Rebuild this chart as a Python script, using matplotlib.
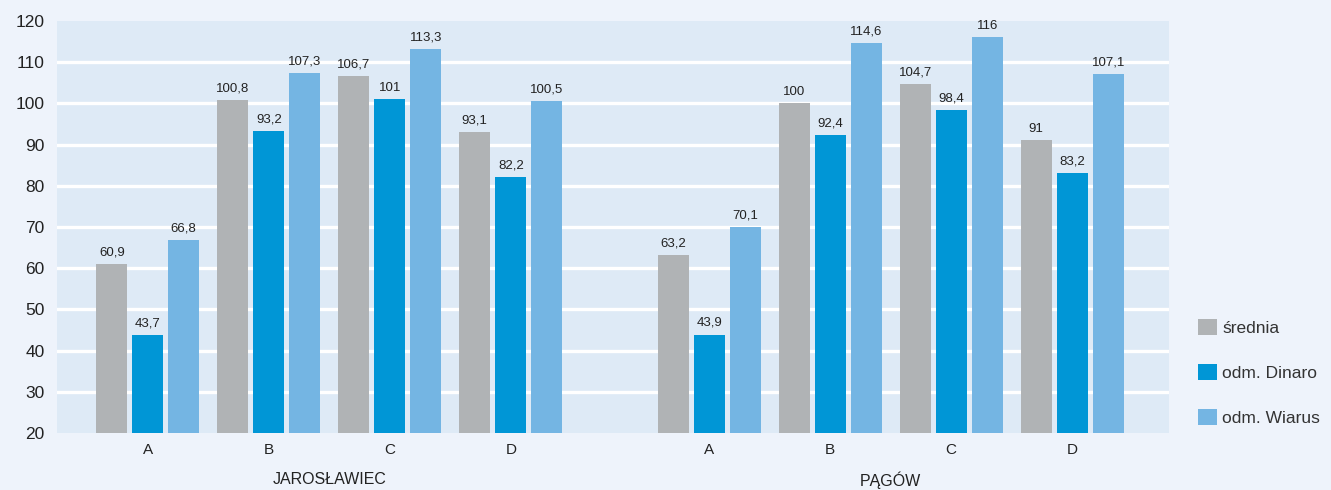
import matplotlib.pyplot as plt
import numpy as np

plt.rcParams['font.family'] = ['Liberation Sans', 'DejaVu Sans']

places = ["JAROSŁAWIEC", "PĄGÓW"]
categories = ["A", "B", "C", "D"]
series = ["średnia", "odm. Dinaro", "odm. Wiarus"]

srednia = [60.9, 100.8, 106.7, 93.1, 63.2, 100, 104.7, 91]
dinaro = [43.7, 93.2, 101, 82.2, 43.9, 92.4, 98.4, 83.2]
wiarus = [66.8, 107.3, 113.3, 100.5, 70.1, 114.6, 116, 107.1]

colors = ["#b0b3b5", "#0096d6", "#74b5e3"]

fig = plt.figure(figsize=(13.31, 4.9), dpi=100, facecolor="#eef3fb")
ax = fig.add_axes([57 / 1331, 1 - 433 / 490, (1169 - 57) / 1331, (433 - 21) / 490])
ax.set_facecolor("#deeaf6")

# group centres: 4 per place, with a wider gap between the places
x = np.concatenate([np.arange(4), np.arange(4) + 4.64])
width = 0.256
step = 0.2975

for i, (vals, name) in enumerate(zip([srednia, dinaro, wiarus], series)):
    bars = ax.bar(x + (i - 1) * step, vals, width, color=colors[i], label=name, zorder=3)
    ax.bar_label(bars, labels=[f"{v:g}".replace(".", ",") for v in vals],
                 padding=4, fontsize=9.5, color="#222222")

ax.set_ylim(20, 120)
ax.set_xlim(-0.75, 7.64 + 0.8)
ax.set_yticks(range(20, 121, 10))
# white lines only inside the plot, not on its top and bottom edge
for yv in range(30, 120, 10):
    ax.axhline(yv, color="white", linewidth=2.4, zorder=1)
ax.set_xticks(x)
ax.set_xticklabels(categories * 2)
ax.tick_params(axis="both", length=0, labelsize=12.5, colors="#222222")
ax.tick_params(axis="x", pad=7, labelsize=11)
ax.tick_params(axis="y", pad=9)
for s in ax.spines.values():
    s.set_visible(False)

for k, name in enumerate(places):
    ax.text(x[4 * k:4 * k + 4].mean(), -0.114, name, transform=ax.get_xaxis_transform(),
            ha="center", va="center", fontsize=11.5, color="#222222")

leg = ax.legend(loc="lower left", bbox_to_anchor=(1198 / 1331, 1 - 426 / 490),
                bbox_transform=fig.transFigure, frameon=False, fontsize=12.5,
                handlelength=1.1, handleheight=1.1, handletextpad=0.3,
                labelspacing=1.6, borderpad=0, borderaxespad=0)
for t in leg.get_texts():
    t.set_color("#333333")

fig.savefig("out.png", facecolor=fig.get_facecolor())
